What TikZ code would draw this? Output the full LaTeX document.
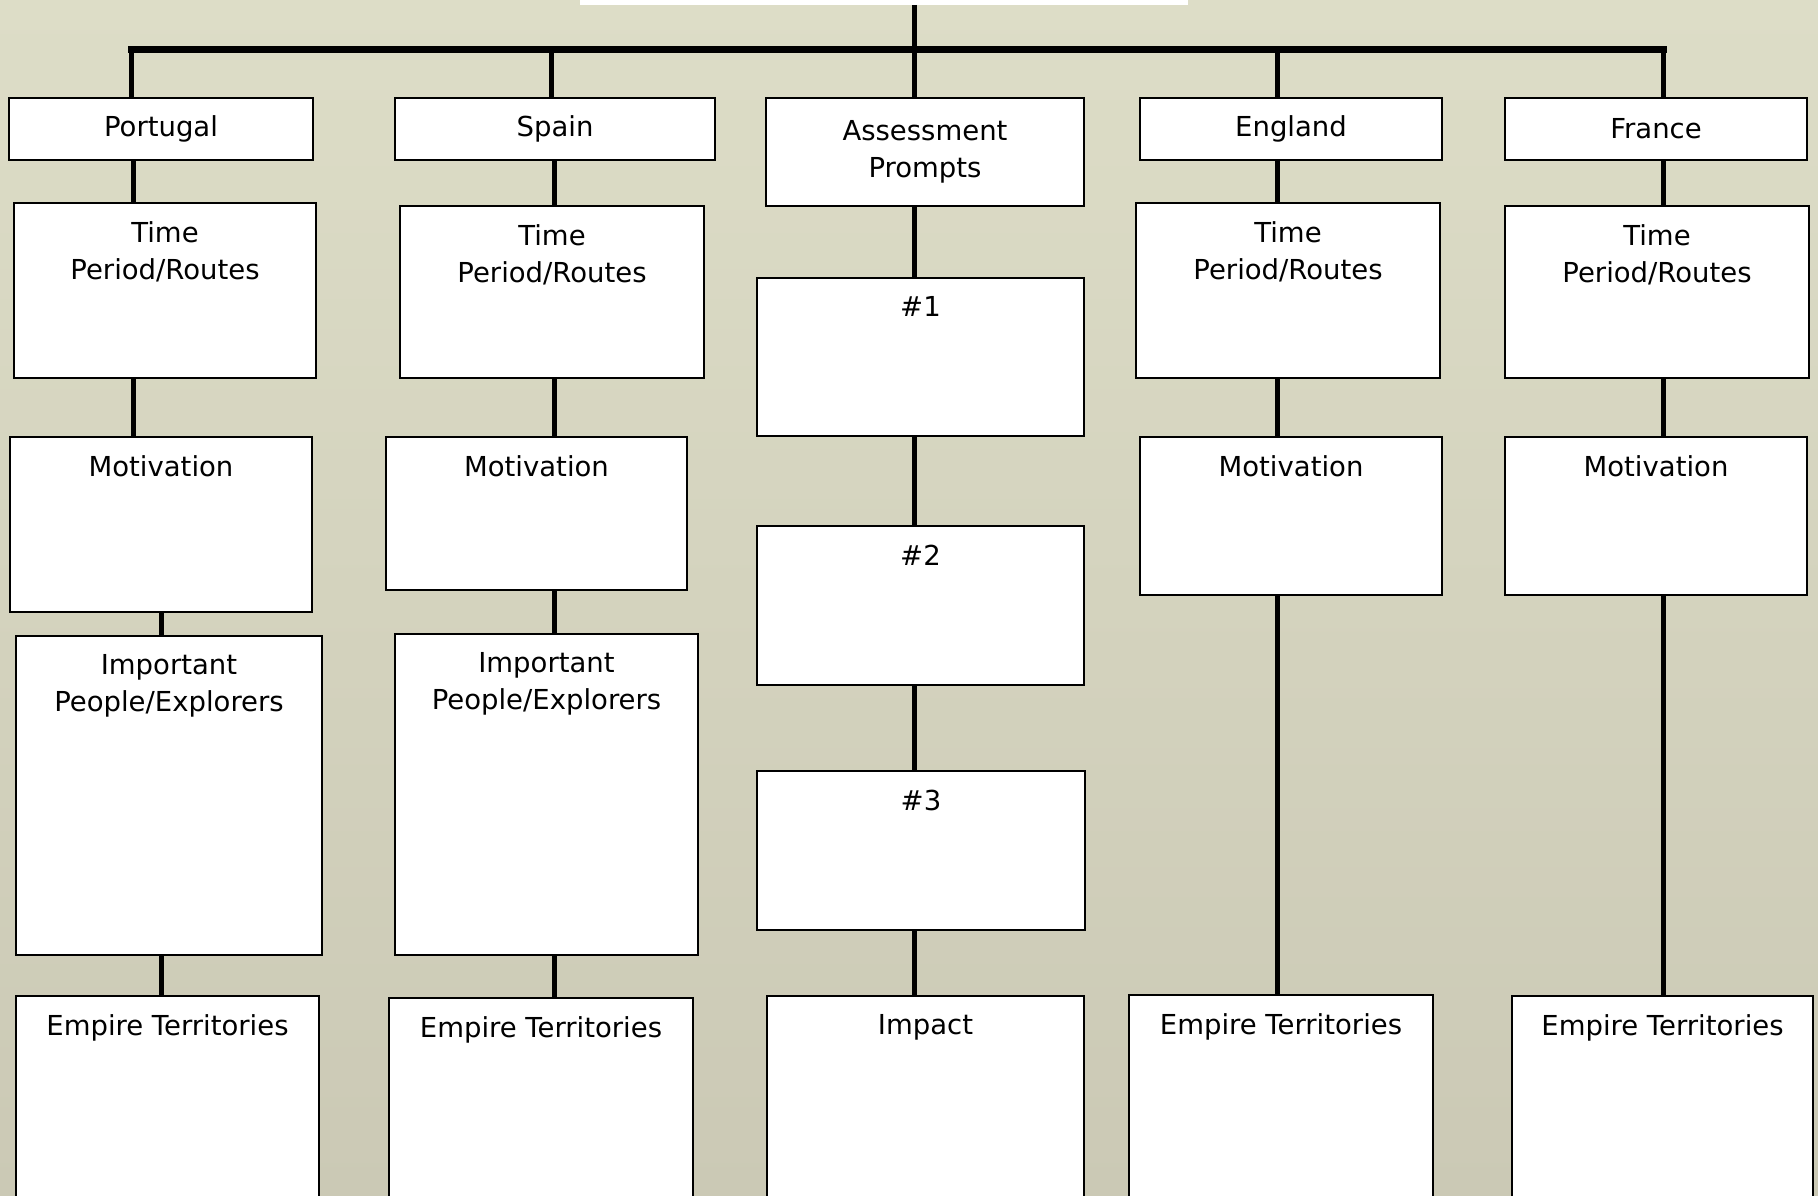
\documentclass[tikz,border=0pt]{standalone}
\usepackage{fontspec}
\setmainfont{DejaVu Sans}
\usepackage{tikz}
\usetikzlibrary{positioning}
\definecolor{bgtop}{RGB}{221,221,199}
\definecolor{bgbot}{RGB}{203,201,181}
\tikzstyle{cell}=[draw,fill=white,rectangle,line width=2pt,anchor=north west,inner sep=0pt,align=center]
\tikzstyle{toptext}=[anchor=north,inner sep=0pt,align=center,yshift=-19.5pt]
\tikzstyle{link}=[line width=5pt]
\tikzstyle{bar}=[line width=7pt,line cap=rect]

\begin{document}
\begin{tikzpicture}[x=1pt,y=-1pt,font=\fontsize{27.5}{37}\selectfont]
	\clip (0,0) rectangle (1818,1196);
	\fill[top color=bgtop,bottom color=bgbot] (0,0) rectangle (1818,1196);
	\node[fill=white,anchor=south west,minimum width=608pt,minimum height=30pt,inner sep=0pt] (root) at (580,5) {};
	
	% column headers
	\node[cell,minimum width=304pt,minimum height=62pt] (portugal) at (8,97) {Portugal};
	\node[cell,minimum width=320pt,minimum height=62pt] (spain) at (394,97) {Spain};
	\node[cell,minimum width=318pt,minimum height=108pt] (assess) at (765,97) {Assessment\\Prompts};
	\node[cell,minimum width=302pt,minimum height=62pt] (england) at (1139,97) {England};
	\node[cell,minimum width=302pt,minimum height=62pt] (france) at (1504,97) {France};
	
	% time period
	\node[cell,minimum width=302pt,minimum height=175pt,label={[toptext]north:Time\\Period/Routes}] (ptime) at (13,202) {};
	\node[cell,minimum width=304pt,minimum height=172pt,label={[toptext]north:Time\\Period/Routes}] (stime) at (399,205) {};
	\node[cell,minimum width=304pt,minimum height=175pt,label={[toptext]north:Time\\Period/Routes}] (etime) at (1135,202) {};
	\node[cell,minimum width=304pt,minimum height=172pt,label={[toptext]north:Time\\Period/Routes}] (ftime) at (1504,205) {};
	
	% motivation
	\node[cell,minimum width=302pt,minimum height=175pt,label={[toptext]north:Motivation}] (pmotiv) at (9,436) {};
	\node[cell,minimum width=301pt,minimum height=153pt,label={[toptext]north:Motivation}] (smotiv) at (385,436) {};
	\node[cell,minimum width=302pt,minimum height=158pt,label={[toptext]north:Motivation}] (emotiv) at (1139,436) {};
	\node[cell,minimum width=302pt,minimum height=158pt,label={[toptext]north:Motivation}] (fmotiv) at (1504,436) {};
	
	% people
	\node[cell,minimum width=306pt,minimum height=319pt,label={[toptext]north:Important\\People/Explorers}] (ppeople) at (15,635) {};
	\node[cell,minimum width=303pt,minimum height=321pt,label={[toptext]north:Important\\People/Explorers}] (speople) at (394,633) {};
	
	% territories
	\node[cell,minimum width=303pt,minimum height=240pt,label={[toptext]north:Empire Territories}] (pempire) at (15,995) {};
	\node[cell,minimum width=304pt,minimum height=240pt,label={[toptext]north:Empire Territories}] (sempire) at (388,997) {};
	\node[cell,minimum width=304pt,minimum height=240pt,label={[toptext]north:Empire Territories}] (eempire) at (1128,994) {};
	\node[cell,minimum width=301pt,minimum height=240pt,label={[toptext]north:Empire Territories}] (fempire) at (1511,995) {};
	
	% prompts
	\node[cell,minimum width=327pt,minimum height=158pt,label={[toptext]north:\#1}] (q1) at (756,277) {};
	\node[cell,minimum width=327pt,minimum height=159pt,label={[toptext]north:\#2}] (q2) at (756,525) {};
	\node[cell,minimum width=328pt,minimum height=159pt,label={[toptext]north:\#3}] (q3) at (756,770) {};
	\node[cell,minimum width=317pt,minimum height=240pt,label={[toptext]north:Impact}] (impact) at (766,995) {};
	
	\coordinate (barL) at (131,50);
	\coordinate (barR) at (1663,50);
	\coordinate (pc) at (133,0);
	\coordinate (pc2) at (161,0);
	\coordinate (sc0) at (551,0);
	\coordinate (sc) at (554,0);
	\coordinate (ac) at (914,0);
	\coordinate (ec) at (1277,0);
	\coordinate (fc) at (1663,0);
	
	\draw[bar] (barL) -- (barR);
	\draw[link] (root.south -| ac) -- (assess.north -| ac);
	\draw[link] (barL) -- (portugal.north -| barL);
	\draw[link] (barL -| sc0) -- (spain.north -| sc0);
	\draw[link] (barL -| ec) -- (england.north -| ec);
	\draw[link] (barR) -- (france.north -| barR);
	
	\draw[link] (portugal.south -| pc) -- (ptime.north -| pc);
	\draw[link] (ptime.south -| pc) -- (pmotiv.north -| pc);
	\draw[link] (pmotiv.south -| pc2) -- (ppeople.north -| pc2);
	\draw[link] (ppeople.south -| pc2) -- (pempire.north -| pc2);
	
	\draw[link] (spain.south -| sc) -- (stime.north -| sc);
	\draw[link] (stime.south -| sc) -- (smotiv.north -| sc);
	\draw[link] (smotiv.south -| sc) -- (speople.north -| sc);
	\draw[link] (speople.south -| sc) -- (sempire.north -| sc);
	
	\draw[link] (assess.south -| ac) -- (q1.north -| ac);
	\draw[link] (q1.south -| ac) -- (q2.north -| ac);
	\draw[link] (q2.south -| ac) -- (q3.north -| ac);
	\draw[link] (q3.south -| ac) -- (impact.north -| ac);
	
	\draw[link] (england.south -| ec) -- (etime.north -| ec);
	\draw[link] (etime.south -| ec) -- (emotiv.north -| ec);
	\draw[link] (emotiv.south -| ec) -- (eempire.north -| ec);
	
	\draw[link] (france.south -| fc) -- (ftime.north -| fc);
	\draw[link] (ftime.south -| fc) -- (fmotiv.north -| fc);
	\draw[link] (fmotiv.south -| fc) -- (fempire.north -| fc);
\end{tikzpicture}
\end{document}
